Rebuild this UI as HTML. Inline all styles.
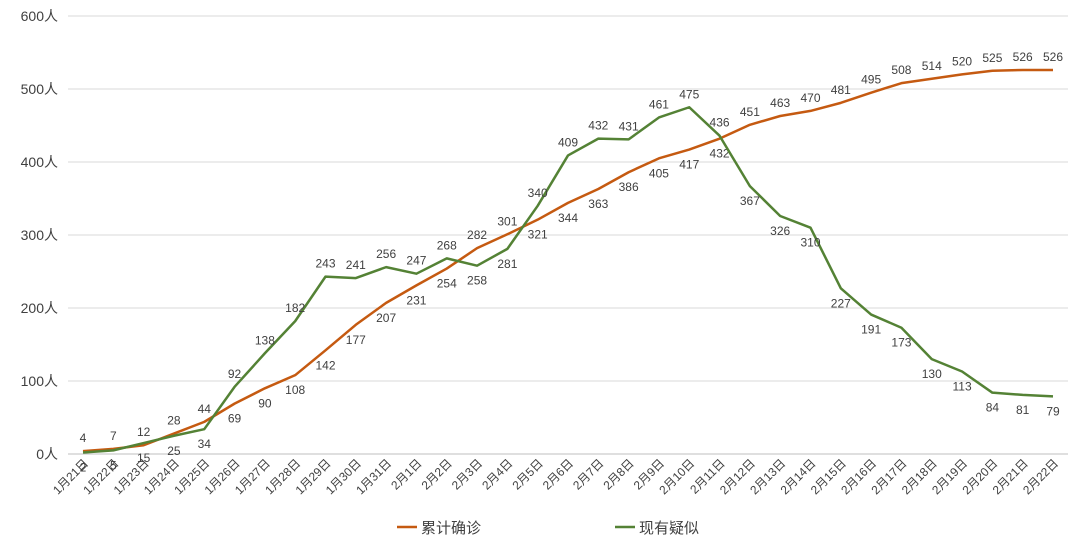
<!DOCTYPE html>
<html><head><meta charset="utf-8"><style>
body{margin:0;background:#fff;font-family:"Liberation Sans","Noto Sans CJK SC",sans-serif;}
svg text{font-family:"Liberation Sans","Noto Sans CJK SC",sans-serif;}
</style></head><body>
<svg id="c" width="1080" height="547"></svg>
<script>
const categories=["1月21日","1月22日","1月23日","1月24日","1月25日","1月26日","1月27日","1月28日","1月29日","1月30日","1月31日","2月1日","2月2日","2月3日","2月4日","2月5日","2月6日","2月7日","2月8日","2月9日","2月10日","2月11日","2月12日","2月13日","2月14日","2月15日","2月16日","2月17日","2月18日","2月19日","2月20日","2月21日","2月22日"];
const confirmed=[4,7,12,28,44,69,90,108,142,177,207,231,254,282,301,321,344,363,386,405,417,432,451,463,470,481,495,508,514,520,525,526,526];
const suspected=[2,5,15,25,34,92,138,182,243,241,256,247,268,258,281,340,409,432,431,461,475,436,367,326,310,227,191,173,130,113,84,81,79];
const yTicks=[0,100,200,300,400,500,600];
const NS="http://www.w3.org/2000/svg";
const svg=document.getElementById('c');
const x0=83,x1=1053,yb=454,yt=16,ymax=600;
const X=i=>x0+(x1-x0)*i/(categories.length-1);
const Y=v=>yb-(yb-yt)*v/ymax;
function mk(t,a){const e=document.createElementNS(NS,t);for(const k in a)e.setAttribute(k,a[k]);svg.appendChild(e);return e;}
yTicks.forEach(v=>{
 const g=mk('line',{x1:68,x2:1068,y1:Y(v),y2:Y(v),stroke:v===0?'#bfbfbf':'#d9d9d9','stroke-width':1});
 
 
 const t=mk('text',{x:58,y:Y(v)+5,'text-anchor':'end','font-size':14,fill:'#404040'});
 t.textContent=v+'人';
 
 
});
categories.forEach((c,i)=>{
 const t=mk('text',{x:X(i)+6,y:464,'text-anchor':'end','font-size':12,fill:'#404040',transform:`rotate(-45 ${X(i)+6} 464)`});
 t.textContent=c;
 
 
});
function series(data,other,color,name,isConfirmed){
 const p=mk('polyline',{points:data.map((v,i)=>X(i)+','+Y(v)).join(' '),fill:'none',stroke:color,'stroke-width':2.5,'stroke-linejoin':'round'});
 
 
 data.forEach((v,i)=>{
  const above=i<5?isConfirmed:v>=other[i];
  const t=mk('text',{x:X(i),y:above?Y(v)-9:Y(v)+19,'text-anchor':'middle','font-size':12,fill:'#404040'});
  t.textContent=v;
  
  
 });
}
series(confirmed,suspected,'#c55a11','confirmed',true);
series(suspected,confirmed,'#548235','suspected',false);
[[397,'#c55a11','累计确诊','legend-confirmed'],[615,'#548235','现有疑似','legend-suspected']].forEach(([lx,col,txt,nm])=>{
 const l=mk('line',{x1:lx,x2:lx+20,y1:527,y2:527,stroke:col,'stroke-width':2.5});
 
 
 const t=mk('text',{x:lx+24,y:533,'font-size':15,fill:'#404040'});
 t.textContent=txt;
 
 
});
</script>
</body></html>
